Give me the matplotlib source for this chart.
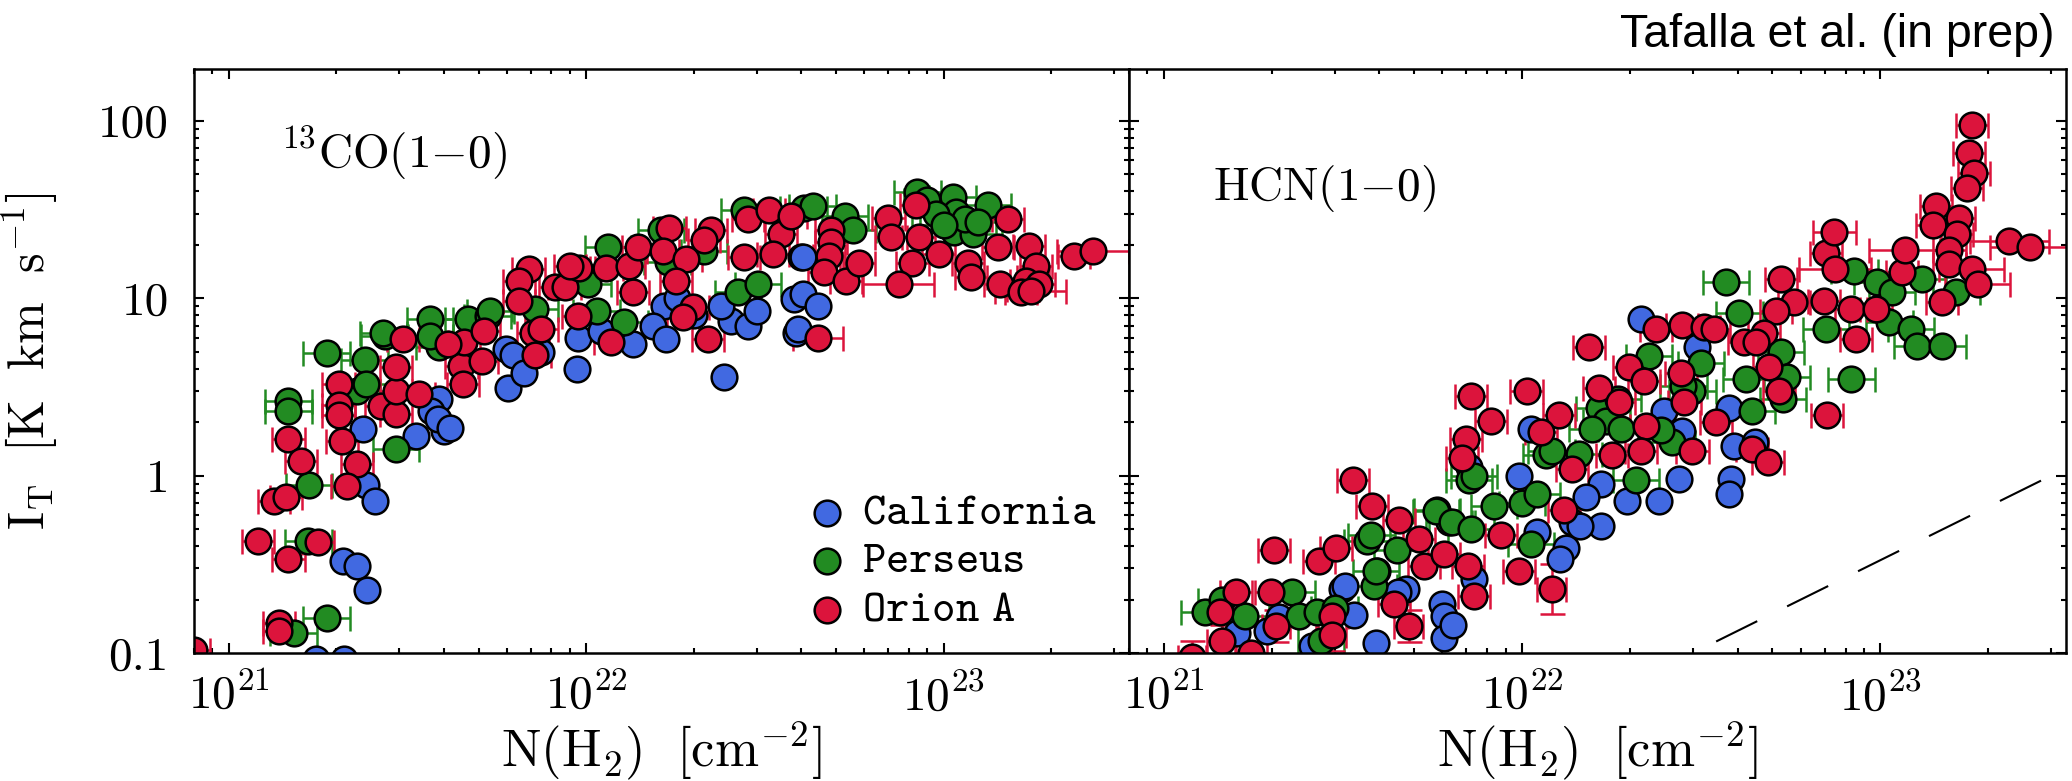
import matplotlib
matplotlib.use('Agg')
import matplotlib.pyplot as plt
import numpy as np
from matplotlib import ticker

plt.rcParams['font.family'] = 'cmr10'
plt.rcParams['mathtext.fontset'] = 'cm'
plt.rcParams['axes.formatter.use_mathtext'] = True

# column densities in units of 1e21 cm^-2, intensities in K km/s
# ---- 13CO(1-0) ----
co_cal_n = [2.43, 2.56, 2.09, 2.28, 2.44, 2.38, 3.35, 4.01, 3.88, 3.69, 6.05, 5.98, 3.84, 4.17, 1.75, 2.1,
            6.25, 6.7, 9.5, 9.4, 13.5, 16.5, 15.4, 16.7, 24.3, 25.4, 28.4, 23.8, 39.9, 38.1, 38.6,
            40.4, 40.4, 44.5, 39.1, 7.5, 11.0, 20.0, 30.0, 18.0]
co_cal_i = [0.88, 0.72, 0.33, 0.31, 0.226, 1.84, 1.68, 1.79, 2.7, 2.3, 3.1, 5.2, 2.09, 1.86, 0.092, 0.092,
            4.8, 3.8, 6.0, 4.0, 5.5, 9.0, 7.0, 5.9, 3.6, 7.4, 7.0, 9.0, 17.0, 9.9, 6.4,
            17.0, 10.5, 9.0, 6.7, 5.0, 6.5, 8.0, 8.5, 10.0]

co_per_n = [1.88, 2.4, 1.47, 1.47, 1.68, 1.67, 1.88, 1.52, 2.94, 2.73, 3.88, 2.28, 2.43, 3.66, 3.66, 4.68, 5.3, 2.71,
            7.2, 5.4, 10.1, 11.5, 10.7, 12.8, 16.2, 16.9, 21.4, 26.6, 30.2, 27.6, 40.6,
            43.0, 53.0, 55.7, 84.5, 106, 108, 107, 133, 121, 90, 95, 115, 100, 125]
co_per_i = [4.9, 4.5, 2.64, 2.3, 0.88, 0.43, 0.157, 0.13, 1.42, 6.1, 5.3, 3.0, 3.3, 7.6, 6.1, 7.6, 7.9, 6.4,
            8.7, 8.5, 12.0, 19.4, 8.5, 7.3, 24.4, 16.1, 18.4, 10.9, 12.0, 31.6, 32.4,
            32.9, 28.9, 24.4, 39.9, 37.4, 30.8, 23.5, 33.7, 22.9, 36, 30, 28, 26, 27]

co_ori_n = [1.47, 1.59, 1.34, 1.45, 1.21, 1.47, 1.78, 1.38, 1.38, 0.80, 2.03, 2.03, 2.03, 2.07, 2.28, 2.14,
            2.67, 2.94, 2.94, 2.94, 3.08, 3.40, 4.48, 4.53, 4.56, 5.19, 4.1,
            6.9, 6.5, 6.5, 7.1, 7.2, 5.1, 8.2, 8.7, 9.5, 9.55, 11.4, 13.2, 14.0, 11.7, 13.5, 17.1, 16.4,
            19.0, 17.8, 22.3, 21.4, 19.9, 18.7, 21.9, 27.6, 28.4, 32.4, 35.1, 33.3, 7.5, 9.0,
            37.4, 48.3, 48.3, 47.8, 46.2, 53.2, 57.9, 70.1, 83.6, 71.1, 85.1, 81.8, 96.8,
            151, 142, 117, 119, 144, 173, 178, 181, 167, 231, 170, 185, 165]
co_ori_i = [1.61, 1.21, 0.72, 0.76, 0.43, 0.34, 0.425, 0.147, 0.133, 0.104, 3.3, 2.5, 2.2, 1.57, 1.17, 0.87,
            2.47, 2.23, 3.0, 4.1, 5.9, 2.9, 4.15, 3.3, 5.7, 6.5, 5.5,
            14.6, 12.5, 9.6, 6.4, 4.8, 4.4, 11.5, 11.5, 7.9, 14.9, 14.9, 15.1, 19.4, 5.7, 10.9, 25.0, 18.4,
            16.6, 12.5, 24.4, 21.4, 8.9, 7.8, 5.9, 17.0, 27.8, 31.6, 22.9, 17.7, 6.7, 15.1,
            28.9, 24.4, 20.7, 17.2, 14.0, 12.5, 15.9, 28.5, 33.7, 22.0, 22.0, 15.9, 17.7,
            27.8, 19.4, 15.9, 13.1, 12.0, 19.6, 13.1, 15.1, 11.2, 17.2, 12.5, 12.0, 10.8]

# Orion A positions with large N(H2) uncertainties (dex)
co_ori_wide_n = [44.5, 74.8, 175, 262]
co_ori_wide_i = [6.0, 12.0, 11.0, 18.4]
co_ori_wide_dex = [0.07, 0.1, 0.1, 0.1]

# ---- HCN(1-0) ----
hcn_cal_n = [3.14, 3.94, 4.74, 5.98, 6.05, 3.40, 3.91, 1.94, 6.05, 21.5, 30.8, 24.9, 28.0, 37.8, 39.1,
             27.5, 38.4, 37.8, 24.1, 19.7, 16.6, 15.1, 16.6, 9.8, 7.11, 13.8, 13.3, 10.6, 44.8, 12.8,
             11.0, 7.35, 6.4, 2.1, 4.5, 14.5, 3.2, 1.6, 2.6]
hcn_cal_i = [0.23, 0.29, 0.23, 0.19, 0.161, 0.163, 0.114, 0.133, 0.121, 7.6, 5.3, 2.3, 1.79, 2.4, 1.47,
             0.96, 0.96, 0.79, 0.72, 0.72, 0.90, 0.76, 0.52, 1.0, 1.12, 0.55, 0.39, 1.84, 1.55, 0.34,
             0.48, 0.26, 0.144, 0.16, 0.22, 0.52, 0.24, 0.13, 0.11]

hcn_per_n = [3.69, 4.48, 5.79, 6.25, 3.86, 3.91, 2.28, 1.69, 2.38, 2.67, 2.75, 37.1, 40.4, 22.6, 31.6,
             29.9, 16.4, 17.2, 15.7, 18.9, 11.7, 14.4, 26.2, 20.8, 7.11, 10.0, 8.35, 5.75, 6.37, 7.21,
             10.6, 52.9, 54.9, 42.3, 43.9, 83.0, 70.6, 84.6, 98.1, 108, 131, 106, 122, 127, 149, 163,
             7.35, 3.8, 3.0, 11.0, 24.5, 12.1, 18.5, 28.2, 53.5, 1.3, 1.45]
hcn_per_i = [0.43, 0.38, 0.64, 0.55, 0.24, 0.29, 0.22, 0.161, 0.161, 0.17, 0.117, 12.3, 8.3, 4.7, 4.3,
             3.0, 2.4, 2.04, 1.84, 1.84, 1.30, 1.33, 1.55, 0.94, 0.94, 0.70, 0.67, 0.63, 0.55, 0.50,
             0.41, 5.0, 3.6, 3.5, 2.3, 3.5, 6.7, 14.2, 12.3, 10.8, 12.8, 7.3, 6.7, 5.4, 5.4, 10.8,
             1.0, 0.46, 0.18, 0.79, 1.8, 1.38, 2.7, 3.2, 2.7, 0.17, 0.2]

hcn_ori_n = [3.37, 3.81, 4.53, 5.15, 5.32, 2.03, 2.71, 3.02, 1.59, 1.99, 1.44, 1.75, 2.95, 4.39, 6.05,
             15.4, 7.21, 10.3, 8.19, 6.98, 6.80, 12.7, 11.3, 13.8, 13.1, 8.74, 16.4, 18.7, 19.9, 21.9,
             23.7, 28.0, 32.2, 34.4, 27.8, 28.4, 22.2, 21.5, 17.8, 29.9, 34.8, 41.7,
             180, 177, 183, 175, 143, 140, 166, 164, 156, 156, 149, 70.6, 115, 52.9, 57.5, 69.8,
             83.0, 97.5, 85.7, 51.2, 47.4, 45.1, 49.0, 52.2, 71.1, 9.8, 7.35, 7.06, 43.9, 48.6]
hcn_ori_i = [0.94, 0.67, 0.56, 0.44, 0.31, 0.38, 0.33, 0.39, 0.22, 0.22, 0.17, 0.10, 0.161, 0.19, 0.36,
             5.3, 2.8, 3.0, 2.04, 1.61, 1.25, 2.2, 1.77, 1.09, 0.64, 0.46, 3.1, 2.6, 4.1, 3.4,
             6.7, 7.1, 6.9, 6.7, 3.8, 2.6, 1.91, 1.38, 1.30, 1.38, 2.0, 5.7,
             95, 66, 51, 42, 32.9, 26.0, 28.5, 22.9, 18.8, 15.5, 9.5, 18.1, 14.0, 12.8, 9.5, 9.6,
             8.7, 8.7, 5.9, 8.5, 6.4, 5.7, 4.1, 3.0, 2.2, 0.29, 0.21, 0.31, 1.42, 1.2]

hcn_ori_wide_n = [74.4, 74.8, 117, 229, 261, 180, 187]
hcn_ori_wide_i = [23.5, 14.6, 18.8, 20.9, 19.4, 14.6, 12.0]
hcn_ori_wide_dex = [0.06, 0.1, 0.1, 0.11, 0.11, 0.09, 0.09]

# faint positions with visible intensity uncertainties (dex)
hcn_ori_low_n = [12.1, 1.45, 2.06, 1.2, 4.83, 2.95]
hcn_ori_low_i = [0.23, 0.117, 0.142, 0.095, 0.142, 0.126]
hcn_ori_low_dex = [0.14, 0.09, 0.09, 0.09, 0.09, 0.09]

cloud_names = ['California', 'Perseus', 'Orion A']
cloud_colors = ['#4169e1', '#228b22', '#dc143c']

# reference line I = N / 3e23
line_ratio = 1 / 3.0e23

MS = 18.5
MEW = 1.8


def draw(ax, n, i, color, xdex=0.0, ydex=0.0):
    n = np.asarray(n) * 1e21
    i = np.asarray(i, dtype=float)
    xdex = np.asarray(xdex)
    ydex = np.asarray(ydex)
    xerr = [n - n / 10**xdex, n * 10**xdex - n] if np.any(xdex > 0) else None
    yerr = [i - i / 10**ydex, i * 10**ydex - i] if np.any(ydex > 0) else None
    ax.errorbar(n, i, xerr=xerr, yerr=yerr, fmt='o', ms=MS, mfc=color, mec='black', mew=MEW,
                ecolor=color, elinewidth=1.8, capsize=9, capthick=1.8)


W, H = 2072, 781
fig = plt.figure(figsize=(W / 100, H / 100), dpi=100)
ax1 = fig.add_axes([194 / W, 1 - 653 / H, 935 / W, 584 / H])
ax2 = fig.add_axes([1129 / W, 1 - 653 / H, 937 / W, 584 / H])

blue, green, red = cloud_colors
draw(ax1, co_cal_n, co_cal_i, blue)
draw(ax1, co_per_n, co_per_i, green, xdex=0.065)
draw(ax1, co_ori_n, co_ori_i, red, xdex=0.045)
draw(ax1, co_ori_wide_n, co_ori_wide_i, red, xdex=co_ori_wide_dex)

draw(ax2, hcn_cal_n, hcn_cal_i, blue)
draw(ax2, hcn_per_n, hcn_per_i, green, xdex=0.065)
draw(ax2, hcn_ori_n, hcn_ori_i, red, xdex=0.045)
draw(ax2, hcn_ori_wide_n, hcn_ori_wide_i, red, xdex=hcn_ori_wide_dex)
draw(ax2, hcn_ori_low_n, hcn_ori_low_i, red, xdex=0.04, ydex=hcn_ori_low_dex)

nline = np.logspace(20.9, 23.6, 50)
ax2.plot(nline, nline * line_ratio, color='black', lw=1.5, linestyle=(0, (22, 16)))

for ax in (ax1, ax2):
    ax.set_xscale('log')
    ax.set_yscale('log')
    ax.set_xlim(8.0e20, 3.3e23)
    ax.set_ylim(0.1, 196)
    ax.xaxis.set_major_locator(ticker.LogLocator(base=10, numticks=10))
    ax.xaxis.set_minor_locator(ticker.LogLocator(base=10, subs=np.arange(2, 10), numticks=30))
    ax.yaxis.set_major_locator(ticker.LogLocator(base=10, numticks=10))
    ax.yaxis.set_minor_locator(ticker.LogLocator(base=10, subs=np.arange(2, 10), numticks=30))
    ax.xaxis.set_minor_formatter(ticker.NullFormatter())
    ax.yaxis.set_minor_formatter(ticker.NullFormatter())
    ax.tick_params(which='both', direction='in', top=True, right=True, width=1.5, labelsize=34)
    ax.tick_params(axis='x', pad=14)
    ax.tick_params(axis='y', pad=18)
    ax.tick_params(which='major', length=7.5)
    ax.tick_params(which='minor', length=3.8)
    for s in ax.spines.values():
        s.set_linewidth(1.8)
    ax.set_xlabel(r'$\mathrm{N(H_2)\ \ [cm^{-2}]}$', fontsize=38, labelpad=0)

ax1.yaxis.set_major_formatter(ticker.FuncFormatter(lambda v, p: f'{v:g}'))
ax2.tick_params(labelleft=False)
ax1.set_ylabel(r'$\mathrm{I_T\ \ [K\ \ km\ \ s^{-1}]}$', fontsize=36)
ax1.yaxis.set_label_coords(-0.143, 0.5)

ax1.text(0.092, 0.832, r'$^{13}\mathrm{CO}(1{-}0)$', transform=ax1.transAxes, fontsize=34, va='baseline')
ax2.text(0.09, 0.776, r'$\mathrm{HCN}(1{-}0)$', transform=ax2.transAxes, fontsize=34, va='baseline')

# legend
for k, (lab, col) in enumerate(zip(cloud_names, cloud_colors)):
    yk = 0.240 - 0.083 * k
    ax1.plot(0.677, yk, 'o', ms=MS, mfc=col, mec='black', mew=MEW, transform=ax1.transAxes)
    ax1.text(0.714, yk, r'$\mathtt{%s}$' % lab.replace(' ', r'\ '), transform=ax1.transAxes,
             fontsize=32, va='center')

fig.text(2055 / W, 1 - 47 / H, 'Tafalla et al. (in prep)', ha='right', va='baseline',
         fontsize=33.5, family='Liberation Sans')

fig.savefig('out.png', dpi=100)
